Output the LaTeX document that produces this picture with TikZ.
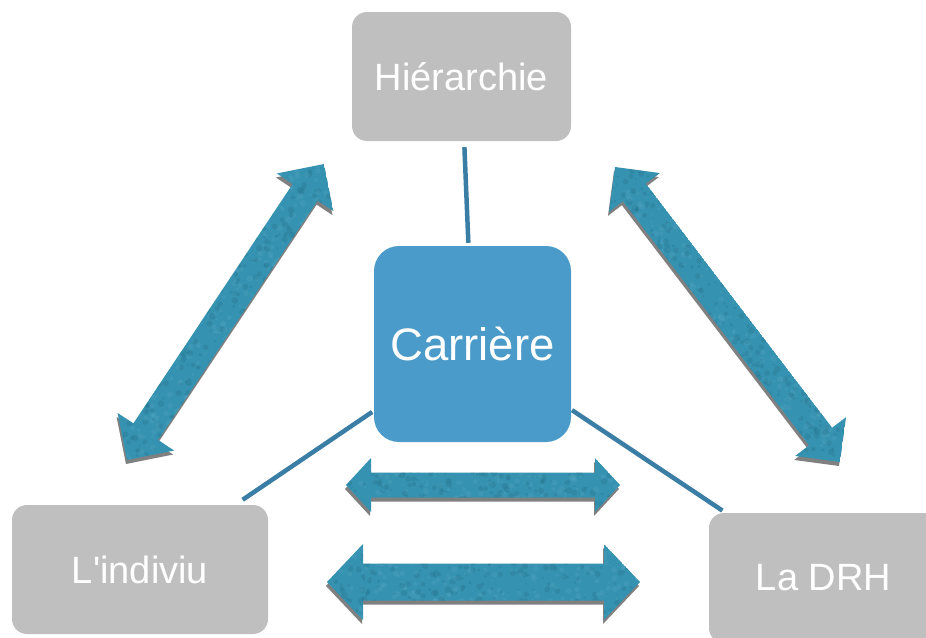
\documentclass[tikz,border=0pt]{standalone}
\usepackage{fontspec}
\newfontfamily\labelfont{Liberation Sans}
\usetikzlibrary{calc}

\definecolor{boxgray}{HTML}{BFBFBF}
\definecolor{carblue}{HTML}{4A9BCA}
\definecolor{linkblue}{HTML}{3A7EA6}
\definecolor{arrowteal}{HTML}{3592B0}
\definecolor{arrowdark}{HTML}{246F88}
\definecolor{arrowlight}{HTML}{5AADC8}
\definecolor{shadowgray}{HTML}{808080}

% Corner points of a two-headed block arrow running from #2 to #3
% #1 name, #4 half shaft width, #5 half head width, #6 head length
\newcommand{\setblockarrow}[6]{%
  \coordinate (#1-a) at #2;
  \coordinate (#1-b) at #3;
  \coordinate (#1-h1) at ($(#1-a)!#6!(#1-b)$);
  \coordinate (#1-h2) at ($(#1-b)!#6!(#1-a)$);
  \coordinate (#1-p1) at ($(#1-h1)!#5!90:(#1-b)$);
  \coordinate (#1-p2) at ($(#1-h1)!#4!90:(#1-b)$);
  \coordinate (#1-p3) at ($(#1-h2)!#4!-90:(#1-a)$);
  \coordinate (#1-p4) at ($(#1-h2)!#5!-90:(#1-a)$);
  \coordinate (#1-q4) at ($(#1-h2)!#5!90:(#1-a)$);
  \coordinate (#1-q3) at ($(#1-h2)!#4!90:(#1-a)$);
  \coordinate (#1-q2) at ($(#1-h1)!#4!-90:(#1-b)$);
  \coordinate (#1-q1) at ($(#1-h1)!#5!-90:(#1-b)$);
}
\newcommand{\blockoutline}[1]{(#1-a) -- (#1-p1) -- (#1-p2) -- (#1-p3) -- (#1-p4) -- (#1-b)
  -- (#1-q4) -- (#1-q3) -- (#1-q2) -- (#1-q1) -- cycle}
% Shadow, teal fill and a mottled surface
\newcommand{\drawblockarrow}[1]{%
  \fill[shadowgray, transform canvas={xshift=-1pt, yshift=-4pt}] \blockoutline{#1};
  \begin{scope}
    \clip \blockoutline{#1};
    \fill[arrowteal] \blockoutline{#1};
    \foreach \k in {1,...,300}{
      \fill[arrowdark, opacity=.26]
        ($(#1-a)!{rnd}!(#1-b)+({40*rand},{40*rand})$) circle ({1+2.4*rnd});
      \fill[arrowlight, opacity=.22]
        ($(#1-a)!{rnd}!(#1-b)+({40*rand},{40*rand})$) circle ({1+2.2*rnd});
    }
  \end{scope}
}

\tikzset{
  graybox/.style={fill=boxgray, rounded corners=15pt, text=white,
    font=\labelfont\fontsize{38}{44}\selectfont, inner sep=0pt},
  carbox/.style={fill=carblue, rounded corners=25pt, text=white,
    font=\labelfont\fontsize{45.5}{52}\selectfont, inner sep=0pt,
    minimum width=197pt, minimum height=196pt},
  link/.style={draw=linkblue, line width=4.5pt},
}

\begin{document}
\begin{tikzpicture}[x=1pt, y=-1pt]
  \useasboundingbox (0,0) rectangle (926,637);
  \clip (0,0) rectangle (926,637);
  \pgfmathsetseed{17}

  % boxes
  \node[graybox, minimum width=219pt, minimum height=129pt] (hier) at (461.5,76.5) {Hiérarchie};
  \node[carbox] (car) at (472.5,344) {Carrière};
  \node[graybox, minimum width=256pt, minimum height=129pt] (ind) at (140,569.5) {L'indiviu};
  \node[graybox, minimum width=229pt, minimum height=130pt] (drh) at (823.5,578) {La DRH};

  % links from the central box
  \draw[link, shorten <=6pt, shorten >=3pt] (hier) -- (car);
  \draw[link, shorten <=2pt, shorten >=9pt] (car) -- (ind);
  \draw[link, shorten <=1pt, shorten >=4pt] (car) -- (drh);

  % two-headed block arrows
  \setblockarrow{la}{(324,164)}{(127,460)}{15pt}{34pt}{34pt}
  \setblockarrow{ra}{(615,167)}{(840,462)}{14.5pt}{32pt}{32pt}
  \setblockarrow{ua}{(346,485)}{(620,485)}{12.5pt}{27pt}{25pt}
  \setblockarrow{da}{(327,582)}{(640,582)}{18.5pt}{38pt}{36pt}
  \drawblockarrow{la}
  \drawblockarrow{ra}
  \drawblockarrow{ua}
  \drawblockarrow{da}
\end{tikzpicture}
\end{document}
